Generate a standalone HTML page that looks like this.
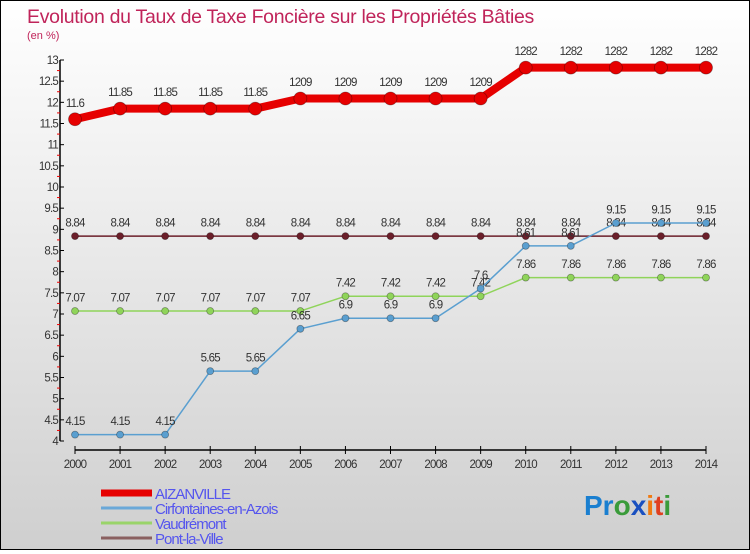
<!DOCTYPE html>
<html><head><meta charset="utf-8"><style>
html,body{margin:0;padding:0}
body{width:750px;height:550px;overflow:hidden;font-family:"Liberation Sans",sans-serif}
#wrap{position:relative;width:748px;height:548px;border:1px solid #000;background:linear-gradient(#ffffff,#cfcfcf)}
</style></head><body>
<div id="wrap">
<svg id="chart" width="748" height="548" xmlns="http://www.w3.org/2000/svg">
<text x="26" y="22" font-size="19.5" fill="#c0245a" letter-spacing="-0.3">Evolution du Taux de Taxe Foncière sur les Propriétés Bâties</text>
<text x="26" y="38" font-size="11" fill="#c0245a">(en %)</text>
<g id="axes"></g>
<g id="series"></g>
<g id="legend"></g>
<text x="583" y="514" font-size="28" font-weight="bold"><tspan fill="#1a7fd0">Pr</tspan><tspan fill="#3a9b3a">o</tspan><tspan fill="#1a50c0">x</tspan><tspan fill="#f07a10">i</tspan><tspan fill="#e04020">t</tspan><tspan fill="#3a9b3a">i</tspan></text>
</svg>
</div>
<script>
const years=[2000,2001,2002,2003,2004,2005,2006,2007,2008,2009,2010,2011,2012,2013,2014];
const aizanville=[11.6,11.85,11.85,11.85,11.85,12.09,12.09,12.09,12.09,12.09,12.82,12.82,12.82,12.82,12.82];
const cirfontaines=[4.15,4.15,4.15,5.65,5.65,6.65,6.9,6.9,6.9,7.6,8.61,8.61,9.15,9.15,9.15];
const vaudremont=[7.07,7.07,7.07,7.07,7.07,7.07,7.42,7.42,7.42,7.42,7.86,7.86,7.86,7.86,7.86];
const pontlaville=[8.84,8.84,8.84,8.84,8.84,8.84,8.84,8.84,8.84,8.84,8.84,8.84,8.84,8.84,8.84];
const aizLabels=["11.6","11.85","11.85","11.85","11.85","1209","1209","1209","1209","1209","1282","1282","1282","1282","1282"];
const yTicks=[4,4.5,5,5.5,6,6.5,7,7.5,8,8.5,9,9.5,10,10.5,11,11.5,12,12.5,13];
const NS="http://www.w3.org/2000/svg";
function X(i){return 74+(i)*(705-74)/(years.length-1);}
function Y(v){return 440-(v-4)*(440-59)/9;}
function mk(tag,attrs,parent,text){const e=document.createElementNS(NS,tag);for(const k in attrs)e.setAttribute(k,attrs[k]);if(text!==undefined)e.textContent=text;parent.appendChild(e);return e;}
const axes=document.getElementById('axes'),series=document.getElementById('series'),legend=document.getElementById('legend');
let yl=mk('line',{x1:59,y1:Y(13),x2:59,y2:Y(4),stroke:'#000','stroke-width':1.5},axes);


let xl=mk('line',{x1:74,y1:449,x2:705,y2:449,stroke:'#000','stroke-width':1.5},axes);


yTicks.forEach(t=>{
  mk('line',{x1:59,y1:Y(t),x2:63,y2:Y(t),stroke:'#000'},axes);
  if(t<13) mk('line',{x1:56,y1:Y(t+0.25),x2:59,y2:Y(t+0.25),stroke:'#e00'},axes);
  const tl=mk('text',{x:57,y:Y(t)+4,'font-size':11.5,fill:'#333','text-anchor':'end','letter-spacing':'-0.8'},axes,String(t));
  
  
});
years.forEach((y,i)=>{
  mk('line',{x1:X(i),y1:445,x2:X(i),y2:453,stroke:'#000'},axes);
  const tl=mk('text',{x:X(i),y:467,'font-size':11.5,fill:'#333','text-anchor':'middle','letter-spacing':'-0.8'},axes,String(y));
  
  
});
function drawSeries(vals,labels,color,width,r,name){
  const g=mk('g',{},series);
  
  
  const pl=mk('polyline',{points:vals.map((v,i)=>X(i)+','+Y(v)).join(' '),fill:'none',stroke:color,'stroke-width':width,'stroke-linejoin':'round'},g);
  
  
  vals.forEach((v,i)=>{
    const c=mk('circle',{cx:X(i),cy:Y(v),r:r,fill:color,stroke:'rgba(0,0,0,0.35)','stroke-width':0.8},g);
    
    
    const t=mk('text',{x:X(i),y:Y(v)-(r+6),'font-size':11.5,fill:'#333','text-anchor':'middle','letter-spacing':'-0.8'},g,labels?labels[i]:String(v));
    
    
  });
}
drawSeries(pontlaville,null,'#6b1f2a',1.5,3.5,'pont-la-ville');
drawSeries(vaudremont,null,'#8fd45a',1.5,3.5,'vaudremont');
drawSeries(cirfontaines,null,'#5a9fd0',1.5,3.5,'cirfontaines');
drawSeries(aizanville,aizLabels,'#e60000',8,6.5,'aizanville');
const leg=[["AIZANVILLE","#e60000",7],["Cirfontaines-en-Azois","#6aa8d8",3],["Vaudrémont","#9ad46a",3],["Pont-la-Ville","#8a6060",3]];
leg.forEach((l,i)=>{
  const y=492+i*15;
  const ln=mk('line',{x1:100,y1:y,x2:151,y2:y,stroke:l[1],'stroke-width':l[2]},legend);
  
  
  const t=mk('text',{x:154,y:y+6,'font-size':15,fill:'#5555ee','letter-spacing':'-1'},legend,l[0]);
  
  
});
</script>
</body></html>
